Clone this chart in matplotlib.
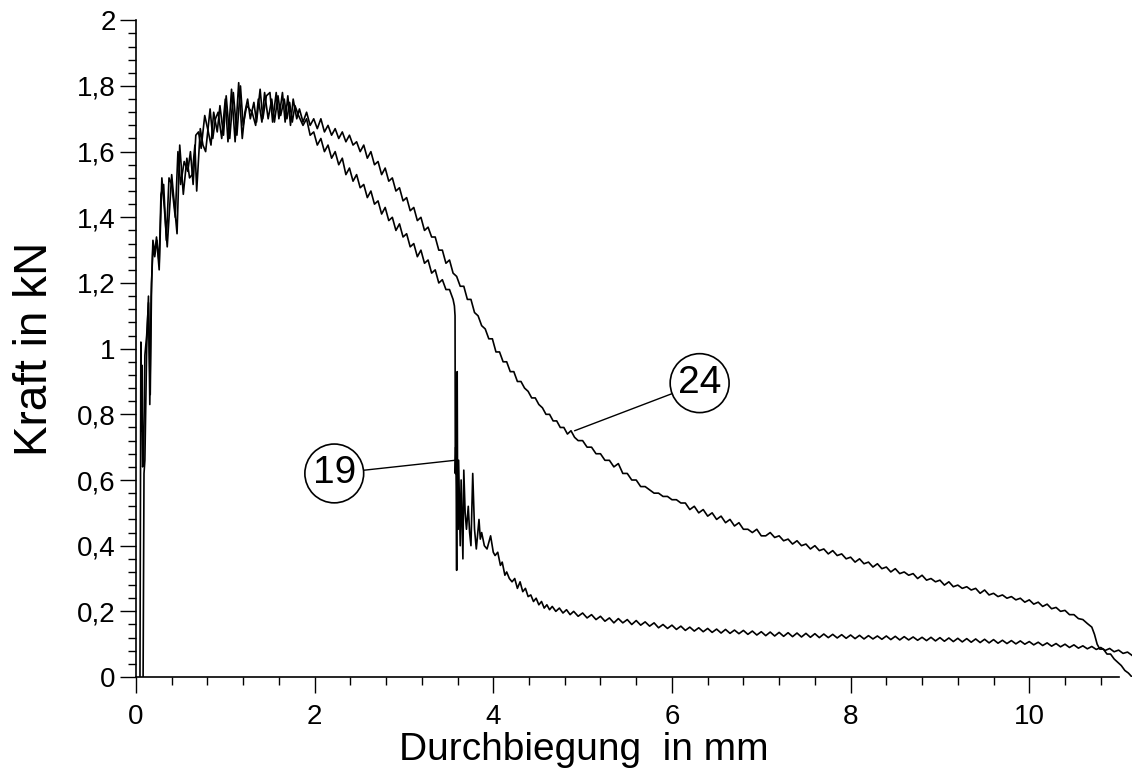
import matplotlib
matplotlib.use("Agg")
import matplotlib.pyplot as plt
from matplotlib.ticker import MultipleLocator, FuncFormatter

plt.rcParams['font.family'] = ['Liberation Sans', 'DejaVu Sans']

# Kurve 24 (Durchbiegung in mm, Kraft in kN)
x24 = [0.08, 0.085, 0.09, 0.10, 0.12, 0.14, 0.155, 0.17, 0.19, 0.21, 0.23, 0.26,
       0.29, 0.32, 0.35, 0.40, 0.43, 0.46, 0.49, 0.53, 0.57, 0.60, 0.63, 0.66,
       0.68, 0.72, 0.75, 0.78, 0.83, 0.86, 0.89, 0.92, 0.96, 1.00, 1.03, 1.07,
       1.11, 1.15, 1.19, 1.22, 1.25, 1.28, 1.32, 1.35, 1.39, 1.42, 1.46, 1.50,
       1.53, 1.57, 1.60, 1.64, 1.67, 1.70, 1.73, 1.76, 1.80, 1.83,
       1.87, 1.91, 1.95, 1.99, 2.03, 2.07, 2.11, 2.15, 2.19, 2.23, 2.27, 2.31,
       2.35, 2.39, 2.43, 2.47, 2.51, 2.55, 2.59, 2.63, 2.67, 2.71, 2.75, 2.79,
       2.83, 2.87, 2.91, 2.95, 2.99, 3.03, 3.07, 3.11, 3.15, 3.19, 3.23, 3.27,
       3.31, 3.35, 3.39, 3.43, 3.47, 3.51, 3.55, 3.59, 3.63, 3.67, 3.71, 3.75,
       3.79, 3.83, 3.87, 3.91, 3.95, 3.99, 4.03, 4.07, 4.11, 4.15, 4.19, 4.23,
       4.27, 4.31, 4.35, 4.39, 4.43, 4.47, 4.51, 4.55, 4.59, 4.63, 4.67, 4.71,
       4.75, 4.79, 4.83, 4.87, 4.91, 4.95, 5.00, 5.05, 5.10, 5.15, 5.20, 5.25,
       5.30, 5.35, 5.40, 5.45, 5.50, 5.55, 5.60, 5.65, 5.70, 5.75, 5.80, 5.85,
       5.90, 5.95, 6.00, 6.05, 6.10, 6.15, 6.20, 6.25, 6.30, 6.35, 6.40, 6.45,
       6.50, 6.55, 6.60, 6.65, 6.70, 6.75, 6.80, 6.85, 6.90, 6.95, 7.00,
       7.05, 7.10, 7.15, 7.20, 7.25, 7.30, 7.35, 7.40, 7.45, 7.50, 7.55, 7.60,
       7.65, 7.70, 7.75, 7.80, 7.85, 7.90, 7.95, 8.00, 8.05, 8.10, 8.15, 8.20,
       8.25, 8.30, 8.35, 8.40, 8.45, 8.50, 8.55, 8.60, 8.65, 8.70, 8.75, 8.80,
       8.85, 8.90, 8.95, 9.00, 9.05, 9.10, 9.15, 9.20, 9.25, 9.30, 9.35, 9.40,
       9.45, 9.50, 9.55, 9.60, 9.65, 9.70, 9.75, 9.80, 9.85, 9.90, 9.95, 10.00,
       10.05, 10.10, 10.15, 10.20, 10.25, 10.30, 10.35, 10.40, 10.45, 10.50,
       10.55, 10.60, 10.65, 10.70, 10.73, 10.76, 10.79, 10.83, 10.87, 10.91,
       10.95, 10.99, 11.03, 11.07, 11.11, 11.15]
y24 = [0.00, 0.30, 0.62, 0.66, 1.00, 1.16, 0.83, 1.16, 1.33, 1.29, 1.34, 1.24,
       1.52, 1.42, 1.31, 1.53, 1.44, 1.35, 1.62, 1.47, 1.58, 1.52, 1.53, 1.62,
       1.48, 1.67, 1.62, 1.60, 1.73, 1.64, 1.70, 1.72, 1.64, 1.76, 1.63, 1.79,
       1.63, 1.81, 1.64, 1.72, 1.76, 1.70, 1.75, 1.69, 1.79, 1.70, 1.77, 1.78,
       1.69, 1.78, 1.70, 1.78, 1.69, 1.77, 1.68, 1.76, 1.70, 1.73,
       1.69, 1.72, 1.68, 1.70, 1.67, 1.70, 1.66, 1.68, 1.65, 1.67, 1.64, 1.66,
       1.63, 1.65, 1.62, 1.63, 1.60, 1.62, 1.58, 1.60, 1.56, 1.57, 1.53, 1.55,
       1.51, 1.52, 1.48, 1.49, 1.45, 1.46, 1.42, 1.43, 1.39, 1.40, 1.36, 1.37,
       1.34, 1.34, 1.30, 1.30, 1.26, 1.27, 1.23, 1.22, 1.19, 1.19, 1.15, 1.15,
       1.11, 1.10, 1.07, 1.06, 1.03, 1.03, 0.99, 0.99, 0.96, 0.96, 0.93, 0.93,
       0.90, 0.90, 0.88, 0.87, 0.85, 0.85, 0.83, 0.82, 0.80, 0.80, 0.78, 0.78,
       0.76, 0.76, 0.74, 0.75, 0.73, 0.72, 0.72, 0.70, 0.70, 0.68, 0.68, 0.66,
       0.66, 0.64, 0.65, 0.62, 0.62, 0.60, 0.60, 0.58, 0.58, 0.57, 0.56, 0.56,
       0.55, 0.55, 0.54, 0.54, 0.53, 0.53, 0.51, 0.52, 0.50, 0.51, 0.49, 0.50,
       0.48, 0.49, 0.47, 0.48, 0.46, 0.47, 0.45, 0.45, 0.44, 0.45, 0.43,
       0.43, 0.44, 0.425, 0.43, 0.415, 0.42, 0.405, 0.415, 0.40, 0.405, 0.39, 0.40,
       0.385, 0.39, 0.375, 0.385, 0.37, 0.375, 0.36, 0.365, 0.35, 0.36, 0.345, 0.35,
       0.335, 0.345, 0.33, 0.335, 0.32, 0.33, 0.315, 0.32, 0.31, 0.315, 0.30, 0.31,
       0.295, 0.30, 0.29, 0.295, 0.28, 0.29, 0.275, 0.28, 0.27, 0.275, 0.265, 0.27,
       0.255, 0.265, 0.25, 0.255, 0.245, 0.25, 0.24, 0.245, 0.235, 0.24, 0.228, 0.235,
       0.222, 0.228, 0.215, 0.222, 0.208, 0.212, 0.20, 0.203, 0.19, 0.19,
       0.178, 0.175, 0.163, 0.152, 0.13, 0.10, 0.085, 0.085, 0.07, 0.07,
       0.055, 0.045, 0.035, 0.02, 0.012, 0.0]

# Kurve 19
x19 = [0.045, 0.05, 0.055, 0.06, 0.065, 0.075, 0.085, 0.10, 0.12, 0.14, 0.16, 0.175,
       0.19, 0.21, 0.235, 0.26, 0.28, 0.31, 0.34, 0.37, 0.40, 0.44, 0.47, 0.50,
       0.54, 0.58, 0.61, 0.64, 0.67, 0.70, 0.73, 0.77, 0.81, 0.84, 0.87, 0.91,
       0.94, 0.98, 1.01, 1.05, 1.09, 1.13, 1.17, 1.20, 1.24, 1.27, 1.30, 1.34,
       1.37, 1.41, 1.44, 1.48, 1.52, 1.55, 1.59, 1.62, 1.66, 1.69, 1.72, 1.75,
       1.78, 1.82,
       1.87, 1.91, 1.95, 1.99, 2.03, 2.07, 2.11, 2.15, 2.19, 2.23, 2.27, 2.31,
       2.35, 2.39, 2.43, 2.47, 2.51, 2.55, 2.59, 2.63, 2.67, 2.71, 2.75, 2.79,
       2.83, 2.87, 2.91, 2.95, 2.99, 3.03, 3.07, 3.11, 3.15, 3.19, 3.23, 3.27,
       3.31, 3.35, 3.39, 3.43, 3.47, 3.51, 3.55, 3.565,
       3.572, 3.575, 3.580, 3.585, 3.590, 3.596, 3.600, 3.605, 3.612, 3.620,
       3.630, 3.640, 3.650, 3.660, 3.670, 3.685, 3.700, 3.720, 3.735, 3.750,
       3.770, 3.790, 3.810, 3.840, 3.855, 3.870, 3.900, 3.930, 3.950, 3.970,
       4.000, 4.020, 4.050, 4.080, 4.100, 4.130, 4.150, 4.180, 4.210, 4.240,
       4.270, 4.300, 4.330, 4.360, 4.390, 4.420, 4.450, 4.480, 4.510, 4.540,
       4.570, 4.600, 4.630, 4.660, 4.700, 4.740, 4.780, 4.820, 4.860, 4.900,
       4.95, 5.00, 5.05, 5.10, 5.15, 5.20, 5.25, 5.30, 5.35, 5.40, 5.45, 5.50,
       5.55, 5.60, 5.65, 5.70, 5.75, 5.80, 5.85, 5.90, 5.95, 6.00, 6.05, 6.10,
       6.15, 6.20, 6.25, 6.30, 6.35, 6.40, 6.45, 6.50, 6.55, 6.60, 6.65, 6.70,
       6.75, 6.80, 6.85, 6.90, 6.95, 7.00,
       7.05, 7.10, 7.15, 7.20, 7.25, 7.30, 7.35, 7.40, 7.45, 7.50, 7.55, 7.60,
       7.65, 7.70, 7.75, 7.80, 7.85, 7.90, 7.95, 8.00, 8.05, 8.10, 8.15, 8.20,
       8.25, 8.30, 8.35, 8.40, 8.45, 8.50, 8.55, 8.60, 8.65, 8.70, 8.75, 8.80,
       8.85, 8.90, 8.95, 9.00, 9.05, 9.10, 9.15, 9.20, 9.25, 9.30, 9.35, 9.40,
       9.45, 9.50, 9.55, 9.60, 9.65, 9.70, 9.75, 9.80, 9.85, 9.90, 9.95, 10.00,
       10.05, 10.10, 10.15, 10.20, 10.25, 10.30, 10.35, 10.40, 10.45, 10.50,
       10.55, 10.60, 10.65, 10.70, 10.75, 10.80, 10.85, 10.90, 10.95, 11.00,
       11.05, 11.10, 11.15]
y19 = [0.00, 0.50, 1.02, 0.75, 0.95, 0.64, 0.66, 0.98, 1.04, 1.14, 0.86, 1.20,
       1.31, 1.28, 1.33, 1.26, 1.47, 1.50, 1.33, 1.52, 1.50, 1.40, 1.60, 1.50,
       1.57, 1.54, 1.60, 1.50, 1.65, 1.66, 1.61, 1.71, 1.66, 1.62, 1.72, 1.66,
       1.74, 1.65, 1.77, 1.64, 1.78, 1.65, 1.80, 1.68, 1.74, 1.73, 1.72, 1.68,
       1.76, 1.69, 1.78, 1.70, 1.76, 1.69, 1.77, 1.71, 1.76, 1.70, 1.75, 1.69,
       1.74, 1.71,
       1.68, 1.70, 1.65, 1.66, 1.62, 1.64, 1.60, 1.62, 1.58, 1.60, 1.56, 1.58,
       1.53, 1.55, 1.51, 1.53, 1.49, 1.50, 1.46, 1.48, 1.44, 1.45, 1.41, 1.43,
       1.39, 1.40, 1.36, 1.38, 1.34, 1.35, 1.31, 1.32, 1.28, 1.30, 1.26, 1.27,
       1.23, 1.24, 1.20, 1.21, 1.18, 1.18, 1.15, 1.13,
       1.10, 0.62, 0.70, 0.58, 0.325, 0.93, 0.60, 0.45, 0.66, 0.55,
       0.40, 0.60, 0.48, 0.36, 0.63, 0.50, 0.45, 0.52, 0.44, 0.40,
       0.62, 0.45, 0.39, 0.48, 0.42, 0.44, 0.40, 0.39, 0.41, 0.43,
       0.38, 0.37, 0.38, 0.34, 0.35, 0.31, 0.32, 0.30, 0.29, 0.30,
       0.27, 0.29, 0.26, 0.27, 0.245, 0.25, 0.23, 0.24, 0.22, 0.23,
       0.21, 0.22, 0.205, 0.215, 0.20, 0.21, 0.195, 0.205, 0.19, 0.20,
       0.185, 0.195, 0.18, 0.19, 0.175, 0.185, 0.17, 0.18, 0.165, 0.178, 0.165, 0.175,
       0.16, 0.172, 0.158, 0.168, 0.155, 0.165, 0.15, 0.16, 0.148, 0.158, 0.145, 0.155,
       0.142, 0.152, 0.14, 0.15, 0.138, 0.148, 0.136, 0.146, 0.134, 0.145, 0.133, 0.143,
       0.132, 0.142, 0.13, 0.14, 0.128, 0.138,
       0.126, 0.137, 0.125, 0.136, 0.124, 0.135, 0.123, 0.134, 0.122, 0.133, 0.121, 0.132,
       0.120, 0.131, 0.120, 0.130, 0.119, 0.129, 0.118, 0.128, 0.117, 0.127, 0.116, 0.126,
       0.116, 0.125, 0.115, 0.125, 0.114, 0.124, 0.113, 0.123, 0.113, 0.122, 0.112, 0.121,
       0.111, 0.121, 0.110, 0.120, 0.109, 0.119, 0.108, 0.118, 0.107, 0.117, 0.106, 0.116,
       0.105, 0.115, 0.104, 0.114, 0.103, 0.112, 0.102, 0.111, 0.101, 0.110, 0.100, 0.108,
       0.098, 0.106, 0.096, 0.104, 0.094, 0.102, 0.092, 0.100, 0.090, 0.098,
       0.088, 0.095, 0.086, 0.093, 0.084, 0.090, 0.081, 0.087, 0.077, 0.082,
       0.072, 0.076, 0.066]

yticks = [0, 0.2, 0.4, 0.6, 0.8, 1, 1.2, 1.4, 1.6, 1.8, 2]
xticks = [0, 2, 4, 6, 8, 10]


def komma(v, pos):
    return ("%g" % round(v, 2)).replace(".", ",")


fig = plt.figure(figsize=(11.32, 7.80), dpi=100)
ax = fig.add_axes([0.1201, 0.132, 0.8799, 0.842])

ax.plot(x24, y24, color="black", lw=1.2)
ax.plot(x19, y19, color="black", lw=1.2)

ax.set_xlim(0, 11.15)
ax.set_ylim(0, 2)
ax.set_xticks(xticks)
ax.set_yticks(yticks)
ax.xaxis.set_minor_locator(MultipleLocator(0.4))
ax.yaxis.set_minor_locator(MultipleLocator(0.04))
ax.yaxis.set_major_formatter(FuncFormatter(komma))
ax.xaxis.set_major_formatter(FuncFormatter(komma))

for s in ["top", "right"]:
    ax.spines[s].set_visible(False)
ax.spines["bottom"].set_bounds(0, 11.0)
ax.spines["left"].set_linewidth(1.2)
ax.spines["bottom"].set_linewidth(1.2)

ax.tick_params(which="major", direction="out", length=11.5, width=1.0, labelsize=20)
ax.tick_params(which="minor", direction="out", length=5.5, width=1.0)
ax.tick_params(axis="x", which="major", pad=8)
ax.tick_params(axis="y", which="major", pad=3)

ax.set_xlabel("Durchbiegung  in mm", fontsize=28)
ax.xaxis.set_label_coords(0.45, -0.084)
ax.set_ylabel("Kraft in kN", fontsize=33)
ax.yaxis.set_label_coords(-0.079, 0.5)

kreis = dict(boxstyle="circle,pad=0.2", fc="white", ec="black", lw=1.2)
linie = dict(arrowstyle="-", color="black", lw=1.0, shrinkA=0, shrinkB=0)
ax.annotate("19", xy=(3.57, 0.66), xytext=(2.22, 0.62), fontsize=28,
            ha="center", va="center", bbox=kreis, arrowprops=linie)
ax.annotate("24", xy=(4.91, 0.75), xytext=(6.31, 0.895), fontsize=28,
            ha="center", va="center", bbox=kreis, arrowprops=linie)

fig.savefig("out.png", dpi=100)
